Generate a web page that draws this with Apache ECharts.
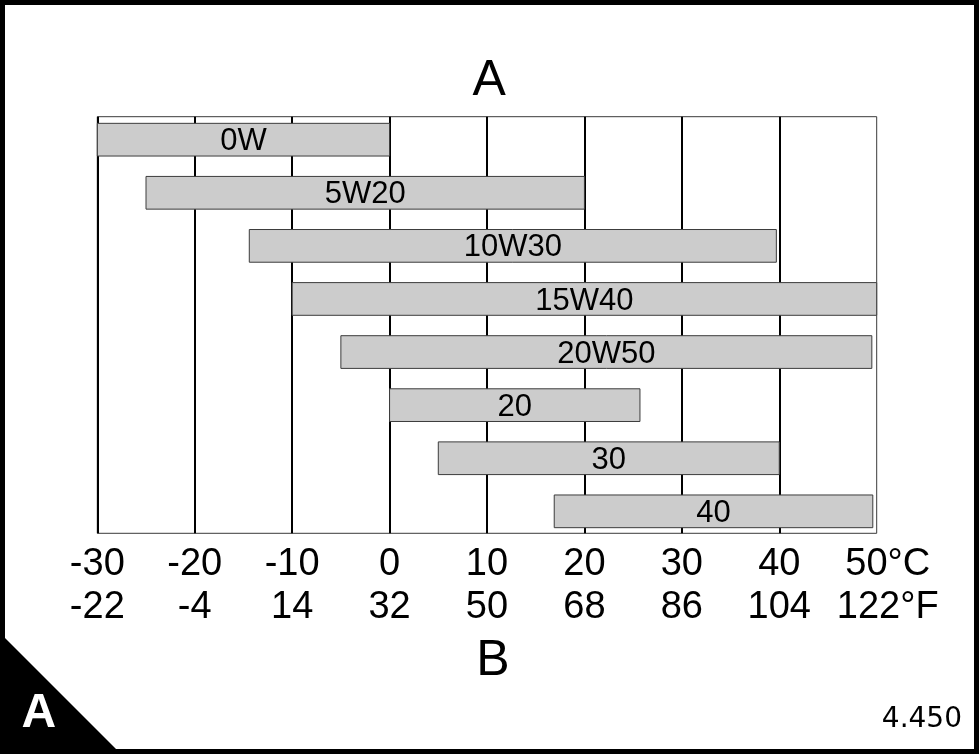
<!DOCTYPE html>
<html>
<head>
<meta charset="utf-8">
<script src="https://cdn.jsdelivr.net/npm/echarts@6/dist/echarts.min.js"></script>
<style>
html,body{margin:0;padding:0;background:#fff;}
#chart{width:979px;height:754px;}
</style>
</head>
<body>
<div id="chart"></div>
<script>
// ---- data ----
const categories = ['0W', '5W20', '10W30', '15W40', '20W50', '20', '30', '40'];
const lowC  = [-30, -25, -14.4, -10, -5, 0, 5, 16.9];
const highC = [0, 20, 39.7, 50, 49.5, 25.7, 40, 49.6];
const celsiusLabels    = ['-30', '-20', '-10', '0', '10', '20', '30', '40', '50°C'];
const fahrenheitLabels = ['-22', '-4', '14', '32', '50', '68', '86', '104', '122°F'];

const FONT = '"Liberation Sans", Arial, Helvetica, sans-serif';
const chart = echarts.init(document.getElementById('chart'), null, {renderer: 'canvas'});

const seriesData = categories.map((c, i) => [i, lowC[i], highC[i]]);

const option = {
  backgroundColor: '#ffffff',
  animation: false,
  grid: {
    left: 97.3, right: 102.3, top: 116.7, bottom: 220.7,
    show: true, borderColor: '#3a3a3a', borderWidth: 1, backgroundColor: 'transparent'
  },
  xAxis: {
    type: 'value', min: -30, max: 50, interval: 10,
    axisLine: {show: false},
    axisTick: {show: false},
    splitLine: {show: true, showMinLine: true, showMaxLine: false, lineStyle: {color: '#000', width: 2}},
    axisLabel: {
      show: true, margin: 9, showMinLabel: true, showMaxLabel: true,
      color: '#000', fontFamily: FONT, fontSize: 38, lineHeight: 43.5,
      formatter: function (v) {
        const k = Math.round((v + 30) / 10);
        const st = (k === celsiusLabels.length - 1) ? 'e' : 'n';
        return '{' + st + '|' + celsiusLabels[k] + '}\n{' + st + '|' + fahrenheitLabels[k] + '}';
      },
      rich: {
        n: {fontFamily: FONT, fontSize: 38, lineHeight: 43.5, color: '#000'},
        e: {fontFamily: FONT, fontSize: 38, lineHeight: 43.5, color: '#000', padding: [0, 0, 0, 22]}
      }
    }
  },
  yAxis: {
    type: 'value', inverse: true, min: -0.433, max: 7.414, show: false,
    splitLine: {show: false}
  },
  series: [{
    type: 'custom',
    data: seriesData,
    encode: {x: [1, 2], y: 0},
    renderItem: function (params, api) {
      const i = api.value(0), lo = api.value(1), hi = api.value(2);
      const p0 = api.coord([lo, i]);
      const p1 = api.coord([hi, i]);
      const h = api.size([0, 1])[1] * 0.616;
      return {
        type: 'rect',
        shape: {x: p0[0], y: p0[1] - h / 2, width: p1[0] - p0[0], height: h},
        style: {fill: '#cccccc', stroke: '#3c3c3c', lineWidth: 1},
        textContent: {
          style: {text: categories[params.dataIndex], fill: '#000', font: '31px ' + FONT}
        },
        textConfig: {position: 'inside', offset: [0, 2]}
      };
    }
  }],
  graphic: [
    {type: 'rect', z: 100, silent: true,
      shape: {x: 2.5, y: 2.5, width: 974, height: 749},
      style: {fill: 'none', stroke: '#000', lineWidth: 5}},
    {type: 'polygon', z: 100, silent: true,
      shape: {points: [[0, 633], [121, 754], [0, 754]]},
      style: {fill: '#000'}},
    {type: 'text', z: 101, silent: true, x: 38.8, y: 714,
      style: {text: 'A', fill: '#fff', font: 'bold 48px ' + FONT, textAlign: 'center', textVerticalAlign: 'middle'}},
    {type: 'text', z: 101, silent: true, x: 962, y: 720,
      style: {text: '4.450', fill: '#000', font: '28px "DejaVu Sans", sans-serif', textAlign: 'right', textVerticalAlign: 'middle'}},
    {type: 'text', z: 101, silent: true, x: 489.2, y: 81,
      style: {text: 'A', fill: '#000', font: '50px ' + FONT, textAlign: 'center', textVerticalAlign: 'middle'}},
    {type: 'text', z: 101, silent: true, x: 493, y: 661,
      style: {text: 'B', fill: '#000', font: '50px ' + FONT, textAlign: 'center', textVerticalAlign: 'middle'}}
  ]
};
chart.setOption(option);
</script>
</body>
</html>
